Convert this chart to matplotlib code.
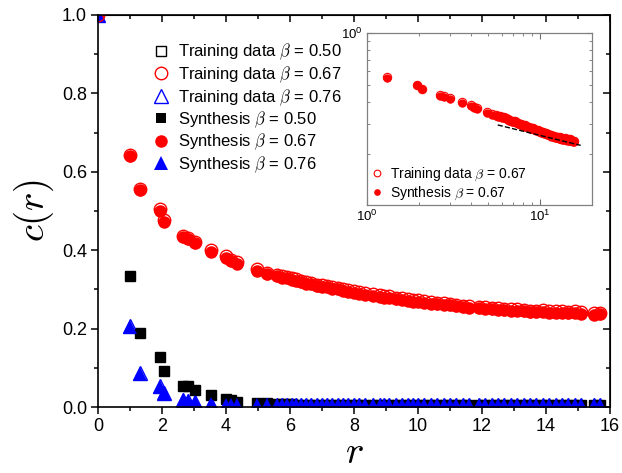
import matplotlib
matplotlib.use("Agg")
import matplotlib.pyplot as plt
from matplotlib.ticker import MultipleLocator, NullFormatter, FormatStrFormatter
import numpy as np

plt.rcParams['font.family'] = ['Liberation Sans', 'DejaVu Sans']
plt.rcParams['mathtext.fontset'] = 'cm'

# ---------------- data ----------------
r = [0, 1.0, 1.3, 1.94, 2.07, 2.66, 2.8, 3.03, 3.53, 4.0, 4.16, 4.34, 4.97, 5.28,
     5.6, 5.75, 5.9, 6.05, 6.2, 6.35, 6.5, 6.65, 6.85, 7.0, 7.15, 7.3, 7.5, 7.65,
     7.8, 8.0, 8.15, 8.35, 8.6, 8.8, 8.95, 9.1, 9.3, 9.5, 9.7, 9.85, 10.0, 10.2,
     10.4, 10.6, 10.8, 11.0, 11.2, 11.4, 11.6, 11.9, 12.1, 12.3, 12.5, 12.7, 12.9,
     13.1, 13.3, 13.5, 13.7, 13.9, 14.1, 14.3, 14.5, 14.7, 14.9, 15.1, 15.5, 15.7]

syn_067 = [1.0, 0.640, 0.553, 0.500, 0.473, 0.433, 0.428, 0.418, 0.396, 0.380, 0.372, 0.365,
           0.347, 0.339, 0.333, 0.330, 0.328, 0.325, 0.322, 0.318, 0.315, 0.313, 0.308,
           0.306, 0.305, 0.302, 0.300, 0.296, 0.294, 0.292, 0.289, 0.286, 0.284, 0.281,
           0.279, 0.278, 0.275, 0.273, 0.271, 0.269, 0.268, 0.266, 0.264, 0.262, 0.261,
           0.259, 0.257, 0.254, 0.253, 0.252, 0.251, 0.249, 0.248, 0.247, 0.245, 0.246,
           0.244, 0.242, 0.242, 0.243, 0.241, 0.240, 0.241, 0.239, 0.240, 0.238, 0.235, 0.236]

train_067 = [1.0, 0.643, 0.557, 0.504, 0.477, 0.437, 0.432, 0.422, 0.400, 0.384, 0.376, 0.369,
             0.351, 0.343, 0.337, 0.334, 0.332, 0.329, 0.326, 0.322, 0.319, 0.317, 0.312,
             0.310, 0.309, 0.306, 0.304, 0.300, 0.298, 0.296, 0.293, 0.290, 0.288, 0.285,
             0.283, 0.282, 0.279, 0.277, 0.275, 0.273, 0.272, 0.270, 0.268, 0.266, 0.265,
             0.263, 0.261, 0.258, 0.257, 0.256, 0.255, 0.253, 0.252, 0.251, 0.249, 0.250,
             0.248, 0.246, 0.246, 0.247, 0.245, 0.244, 0.245, 0.243, 0.244, 0.242, 0.239, 0.240]

syn_050 = [1.0, 0.333, 0.187, 0.126, 0.091, 0.053, 0.052, 0.042, 0.030, 0.020, 0.016, 0.013,
           0.009, 0.008, 0.007, 0.007, 0.007, 0.006, 0.006, 0.006, 0.006, 0.006, 0.006,
           0.006, 0.006, 0.006, 0.006, 0.006, 0.005, 0.005, 0.005, 0.005, 0.005, 0.005,
           0.005, 0.005, 0.005, 0.005, 0.005, 0.005, 0.005, 0.005, 0.005, 0.005, 0.005,
           0.005, 0.005, 0.005, 0.005, 0.005, 0.005, 0.005, 0.005, 0.005, 0.005, 0.005,
           0.005, 0.005, 0.005, 0.005, 0.005, 0.005, 0.005, 0.005, 0.005, 0.005, 0.005, 0.005]

train_050 = [1.0, 0.334, 0.188, 0.127, 0.092, 0.054, 0.053, 0.043, 0.031, 0.021, 0.017, 0.014,
             0.010, 0.009, 0.008, 0.007, 0.007, 0.007, 0.006, 0.006, 0.006, 0.006, 0.006,
             0.006, 0.006, 0.006, 0.006, 0.006, 0.006, 0.006, 0.005, 0.005, 0.005, 0.005,
             0.005, 0.005, 0.005, 0.005, 0.005, 0.005, 0.005, 0.005, 0.005, 0.005, 0.005,
             0.005, 0.005, 0.005, 0.005, 0.005, 0.005, 0.005, 0.005, 0.005, 0.005, 0.005,
             0.005, 0.005, 0.005, 0.005, 0.005, 0.005, 0.005, 0.005, 0.005, 0.005, 0.005, 0.005]

syn_076 = [1.0, 0.205, 0.085, 0.052, 0.035, 0.018, 0.015, 0.012, 0.008, 0.006, 0.006, 0.006,
           0.006, 0.006, 0.006, 0.006, 0.006, 0.006, 0.006, 0.006, 0.006, 0.006, 0.006,
           0.006, 0.006, 0.006, 0.006, 0.006, 0.006, 0.006, 0.006, 0.006, 0.006, 0.006,
           0.006, 0.006, 0.006, 0.006, 0.006, 0.006, 0.006, 0.006, 0.006, 0.006, 0.006,
           0.006, 0.006, 0.006, 0.006, 0.006, 0.006, 0.006, 0.006, 0.006, 0.006, 0.006,
           0.006, 0.006, 0.006, 0.006, 0.006, 0.006, 0.006, 0.006, 0.006, 0.006, 0.006, 0.006]

train_076 = [1.0, 0.206, 0.086, 0.053, 0.036, 0.019, 0.016, 0.013, 0.008, 0.006, 0.006, 0.006,
             0.006, 0.006, 0.006, 0.006, 0.006, 0.006, 0.006, 0.006, 0.006, 0.006, 0.006,
             0.006, 0.006, 0.006, 0.006, 0.006, 0.006, 0.006, 0.006, 0.006, 0.006, 0.006,
             0.006, 0.006, 0.006, 0.006, 0.006, 0.006, 0.006, 0.006, 0.006, 0.006, 0.006,
             0.006, 0.006, 0.006, 0.006, 0.006, 0.006, 0.006, 0.006, 0.006, 0.006, 0.006,
             0.006, 0.006, 0.006, 0.006, 0.006, 0.006, 0.006, 0.006, 0.006, 0.006, 0.006, 0.006]

# power-law fit shown in the inset: c = amp * r^(-exp)
fit_amp = 0.452
fit_exp = 0.245
fit_range = [5.7, 17.2]

labels_train = [r'Training data $\beta$ = 0.50', r'Training data $\beta$ = 0.67',
                r'Training data $\beta$ = 0.76']
labels_syn = [r'Synthesis $\beta$ = 0.50', r'Synthesis $\beta$ = 0.67',
              r'Synthesis $\beta$ = 0.76']

# ---------------- figure ----------------
W, H = 622, 473
fig = plt.figure(figsize=(W / 100, H / 100), dpi=100)
L, R, T, B = 98, 610, 15, 407
ax = fig.add_axes([L / W, 1 - B / H, (R - L) / W, (B - T) / H])

ms_c, ms_s, ms_t = 9, 7.5, 9.5
h_tr = []
h_sy = []
# synthesis (filled)
h_sy.append(ax.plot(r, syn_050, 's', color='black', ms=ms_s, mew=0)[0])
h_sy.append(ax.plot(r, syn_067, 'o', color='red', ms=ms_c, mew=0)[0])
h_sy.append(ax.plot(r, syn_076, '^', color='blue', ms=ms_t, mew=0)[0])
# training (open)
h_tr.append(ax.plot(r, train_050, 's', mfc='none', mec='black', ms=ms_s, mew=1, zorder=1.5)[0])
h_tr.append(ax.plot(r, train_067, 'o', mfc='none', mec='red', ms=ms_c, mew=1)[0])
h_tr.append(ax.plot(r, train_076, '^', mfc='none', mec='blue', ms=ms_t, mew=1, zorder=1.5)[0])

ax.set_xlim(0, 16)
ax.set_ylim(0, 1.0)
ax.xaxis.set_major_locator(MultipleLocator(2))
ax.xaxis.set_minor_locator(MultipleLocator(1))
ax.yaxis.set_major_locator(MultipleLocator(0.2))
ax.yaxis.set_minor_locator(MultipleLocator(0.1))
ax.yaxis.set_major_formatter(FormatStrFormatter('%.1f'))
ax.tick_params(which='both', direction='out', labelsize=13, width=1.1, pad=3)
ax.tick_params(which='major', length=5)
ax.tick_params(which='minor', length=3)
for s in ax.spines.values():
    s.set_linewidth(1.2)

secx = ax.secondary_xaxis('top')
secx.xaxis.set_major_locator(MultipleLocator(2))
secx.xaxis.set_minor_locator(MultipleLocator(1))
secx.tick_params(which='both', direction='in', labeltop=False, width=1.1)
secx.tick_params(which='major', length=5)
secx.tick_params(which='minor', length=3)
secy = ax.secondary_yaxis('right')
secy.yaxis.set_major_locator(MultipleLocator(0.2))
secy.yaxis.set_minor_locator(MultipleLocator(0.1))
secy.tick_params(which='both', direction='in', labelright=False, width=1.1)
secy.tick_params(which='major', length=5)
secy.tick_params(which='minor', length=3)

ax.set_xlabel(r'$r$', fontsize=28, labelpad=0)
ax.set_ylabel(r'$c(r)$', fontsize=28, labelpad=4)

handles = h_tr + h_sy
fig.legend(handles=handles, labels=labels_train + labels_syn, loc='upper left',
           bbox_to_anchor=(153 / W, 1 - 42 / H), bbox_transform=fig.transFigure,
           frameon=False, fontsize=12, numpoints=1, handlelength=1.0,
           handletextpad=0.5, labelspacing=0.12, borderpad=0, borderaxespad=0,
           markerscale=1.0)

# ---------------- inset ----------------
iL, iR, iT, iB = 367, 592, 33, 205
axi = fig.add_axes([iL / W, 1 - iB / H, (iR - iL) / W, (iB - iT) / H])
axi.set_xscale('log')
axi.set_yscale('log')
ri = r[2:]
hi_tr = axi.plot(ri, train_067[2:], 'o', mfc='none', mec='red', ms=6, mew=0.8)[0]
hi_sy = axi.plot(ri, syn_067[2:], 'o', color='red', ms=6, mew=0)[0]
fr = np.linspace(fit_range[0], fit_range[1], 50)
axi.plot(fr, fit_amp * fr ** (-fit_exp), '--', color='black', lw=1.0, zorder=3)
axi.set_xlim(1, 20)
axi.set_ylim(0.102, 1.0)
axi.tick_params(which='both', direction='in', top=True, right=True, labelsize=9.5,
                color='#707070', pad=3)
axi.tick_params(which='major', length=4)
axi.tick_params(which='minor', length=2)
axi.yaxis.set_minor_formatter(NullFormatter())
axi.xaxis.set_minor_formatter(NullFormatter())
for s in axi.spines.values():
    s.set_color('#808080')
    s.set_linewidth(0.9)
axi.legend([hi_tr, hi_sy], [labels_train[1], labels_syn[1]], loc='upper left',
           bbox_to_anchor=(371 / W, 1 - 166 / H), bbox_transform=fig.transFigure,
           frameon=False, fontsize=10, numpoints=1, handlelength=0.9,
           handletextpad=0.5, labelspacing=0.12, borderpad=0, borderaxespad=0,
           markerscale=0.8)

fig.savefig('out.png', dpi=100)
